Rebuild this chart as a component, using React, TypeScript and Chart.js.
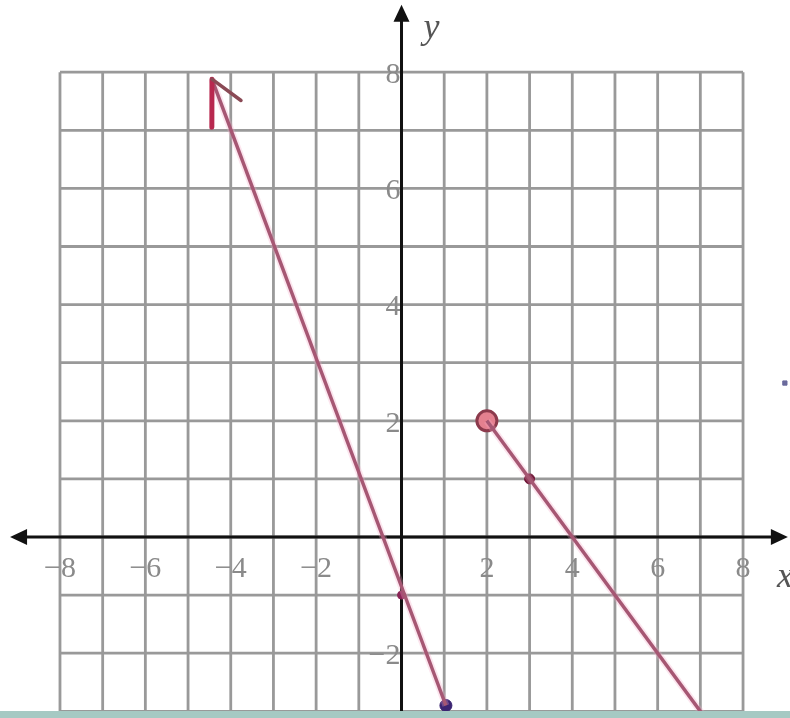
import React, { useEffect, useRef } from "react";
import { Chart, registerables } from "chart.js";

Chart.register(...registerables);

// ---- data ----
const gridX = [-8, -7, -6, -5, -4, -3, -2, -1, 0, 1, 2, 3, 4, 5, 6, 7, 8];
const gridY = [-3, -2, -1, 0, 1, 2, 3, 4, 5, 6, 7, 8];
const xTickValues = [-8, -6, -4, -2, 2, 4, 6, 8];
const xTickLabels = ["−8", "−6", "−4", "−2", "2", "4", "6", "8"];
const yTickValues = [-2, 2, 4, 6, 8];
const yTickLabels = ["−2", "2", "4", "6", "8"];

// left piece: y ≈ -2x - 1, arrow at upper end, closed dot at the lower end
const leftLineX = [-4.44, 1.04];
const leftLineY = [7.88, -2.9];
// right piece: y = -x + 4, open circle at (2,2)
const rightLineX = [2, 7.12];
const rightLineY = [2, -3.12];

const closedX = [1.04, 3, 0];
const closedY = [-2.9, 1, -1];
const openX = [2];
const openY = [2];
const strayX = [8.98];
const strayY = [2.65];

const X_MIN = -9.405, X_MAX = 9.1;
const Y_MIN = -3.115, Y_MAX = 9.243;
const AXIS_X_START = -9.17, AXIS_X_END = 9.05, AXIS_Y_END = 9.16;

const pts = (xs: number[], ys: number[]) => xs.map((x, i) => ({ x, y: ys[i] }));

const paperPlugin = {
  id: "paper",
  beforeDatasetsDraw(chart: any) {
    const { ctx, scales } = chart;
    const sx = scales.x, sy = scales.y;
    const px = (v: number) => sx.getPixelForValue(v);
    const py = (v: number) => sy.getPixelForValue(v);
    ctx.save();
    ctx.fillStyle = "#ffffff";
    ctx.fillRect(0, 0, chart.width, chart.height);

    // grid
    ctx.strokeStyle = "#999999";
    ctx.lineWidth = 2.8;
    gridX.forEach((g) => {
      ctx.beginPath();
      ctx.moveTo(px(g), py(8));
      ctx.lineTo(px(g), py(Y_MIN));
      ctx.stroke();
    });
    gridY.forEach((g) => {
      ctx.beginPath();
      ctx.moveTo(px(-8), py(g));
      ctx.lineTo(px(8), py(g));
      ctx.stroke();
    });

    // tick labels
    ctx.fillStyle = "#8a8a8a";
    ctx.font = "30px 'Liberation Serif', 'DejaVu Serif', serif";
    ctx.textBaseline = "middle";
    ctx.textAlign = "center";
    xTickValues.forEach((v, i) => {
      ctx.fillText(xTickLabels[i], px(v), py(-0.55));
    });
    ctx.textAlign = "right";
    yTickValues.forEach((v, i) => {
      ctx.fillText(yTickLabels[i], px(0) - 1, py(v) + 3);
    });

    // axes
    ctx.strokeStyle = "#111111";
    ctx.fillStyle = "#111111";
    ctx.lineWidth = 3;
    ctx.beginPath();
    ctx.moveTo(px(AXIS_X_START) + 8, py(0));
    ctx.lineTo(px(AXIS_X_END) - 8, py(0));
    ctx.stroke();
    ctx.beginPath();
    ctx.moveTo(px(0), py(Y_MIN));
    ctx.lineTo(px(0), py(AXIS_Y_END) + 8);
    ctx.stroke();
    // arrowheads
    const tri = (tx: number, ty: number, dx: number, dy: number) => {
      const L = 17, W = 8;
      const bx = tx - dx * L, by = ty - dy * L;
      ctx.beginPath();
      ctx.moveTo(tx, ty);
      ctx.lineTo(bx - dy * W, by + dx * W);
      ctx.lineTo(bx + dy * W, by - dx * W);
      ctx.closePath();
      ctx.fill();
    };
    tri(px(AXIS_X_START), py(0), -1, 0);
    tri(px(AXIS_X_END), py(0), 1, 0);
    tri(px(0), py(AXIS_Y_END), 0, -1);

    // axis letters
    ctx.fillStyle = "#555555";
    ctx.font = "italic 36px 'Liberation Serif', 'DejaVu Serif', serif";
    ctx.textAlign = "left";
    ctx.textBaseline = "alphabetic";
    ctx.fillText("y", px(0) + 22, 38);
    ctx.fillText("x", px(8) + 34, py(0) + 50);
    ctx.restore();
  },
  afterDatasetsDraw(chart: any) {
    const { ctx, scales } = chart;
    const sx = scales.x, sy = scales.y;
    const tx = sx.getPixelForValue(leftLineX[0]);
    const ty = sy.getPixelForValue(leftLineY[0]);
    const ox = sx.getPixelForValue(leftLineX[1]);
    const oy = sy.getPixelForValue(leftLineY[1]);
    const len = Math.hypot(ox - tx, oy - ty);
    const dx = (ox - tx) / len, dy = (oy - ty) / len;
    const wing = (ang: number, L: number) => {
      const c = Math.cos(ang), s = Math.sin(ang);
      const wx = dx * c - dy * s, wy = dx * s + dy * c;
      ctx.beginPath();
      ctx.moveTo(tx, ty);
      ctx.lineTo(tx + wx * L, ty + wy * L);
      ctx.stroke();
    };
    ctx.save();
    ctx.lineCap = "round";
    ctx.strokeStyle = "#b8284f";
    ctx.lineWidth = 5;
    wing(0.36, 48);
    ctx.strokeStyle = "#8a4a55";
    ctx.lineWidth = 3.5;
    wing(-0.58, 36);
    // bottom strip of the scan
    ctx.fillStyle = "#a6c9c3";
    ctx.fillRect(0, 711, chart.width, chart.height - 711);
    ctx.restore();
  },
};

export default function App() {
  const ref = useRef<HTMLCanvasElement | null>(null);
  useEffect(() => {
    if (!ref.current) return;
    const chart = new Chart(ref.current, {
      type: "scatter",
      data: {
        datasets: [
          {
            data: pts(leftLineX, leftLineY),
            showLine: true,
            borderColor: "rgba(245,170,200,0.3)",
            borderWidth: 7,
            pointRadius: 0,
          },
          {
            data: pts(rightLineX, rightLineY),
            showLine: true,
            borderColor: "rgba(245,170,200,0.3)",
            borderWidth: 7,
            pointRadius: 0,
          },
          {
            data: pts(leftLineX, leftLineY),
            showLine: true,
            borderColor: "#843450",
            borderWidth: 3.5,
            pointRadius: 0,
          },
          {
            data: pts(rightLineX, rightLineY),
            showLine: true,
            borderColor: "#843450",
            borderWidth: 3.5,
            pointRadius: 0,
          },
          {
            data: pts(closedX, closedY),
            pointRadius: [6, 5, 4],
            backgroundColor: ["#3b2472", "#6e1636", "#8a2556"],
            borderColor: ["#3b2472", "#6e1636", "#8a2556"],
            borderWidth: 1,
          },
          {
            data: pts(openX, openY),
            pointRadius: 10,
            backgroundColor: "#e4808f",
            borderColor: "#8c3a4c",
            borderWidth: 3,
          },
          {
            data: pts(strayX, strayY),
            pointStyle: "rect",
            pointRadius: 3,
            backgroundColor: "#6a6a9c",
            borderColor: "#6a6a9c",
          },
        ],
      },
      options: {
        animation: false,
        responsive: false,
        maintainAspectRatio: false,
        layout: { padding: 0, autoPadding: false },
        plugins: { legend: { display: false }, tooltip: { enabled: false } },
        scales: {
          x: { type: "linear", min: X_MIN, max: X_MAX, display: false },
          y: { type: "linear", min: Y_MIN, max: Y_MAX, display: false },
        },
      },
      plugins: [paperPlugin],
    });
    return () => chart.destroy();
  }, []);
  return (
    <div style={{ position: "absolute", left: 0, top: 0, width: 790, height: 718 }}>
      <canvas ref={ref} width={790} height={718} style={{ display: "block" }} />
    </div>
  );
}
